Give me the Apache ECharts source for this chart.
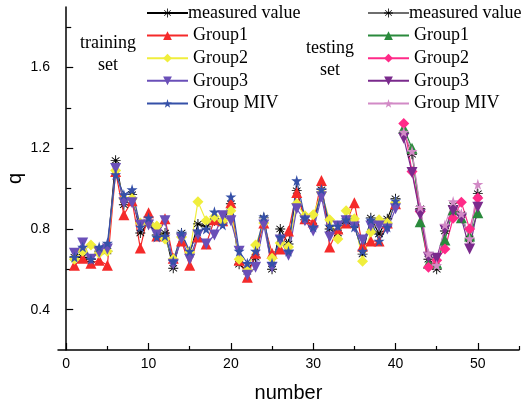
<!DOCTYPE html>
<html>
<head>
<meta charset="utf-8">
<script src="https://cdn.jsdelivr.net/npm/echarts@6/dist/echarts.min.js"></script>
<style>
  html, body { margin: 0; padding: 0; background: #fff; }
  #chart { width: 522px; height: 405px; }
</style>
</head>
<body>
<div id="chart"></div>
<script>
// sample numbers
const trainNo = [1, 2, 3, 4, 5, 6, 7, 8, 9, 10, 11, 12, 13, 14, 15, 16, 17, 18, 19, 20,
  21, 22, 23, 24, 25, 26, 27, 28, 29, 30, 31, 32, 33, 34, 35, 36, 37, 38, 39, 40]
const testNo = [41, 42, 43, 44, 45, 46, 47, 48, 49, 50]

// training set
const trainMeasured = [0.66, 0.66, 0.65, 0.69, 0.69, 1.14, 0.92, 0.97, 0.78, 0.83,
  0.77, 0.78, 0.605, 0.78, 0.675, 0.825, 0.81, 0.84, 0.83, 0.925,
  0.625, 0.59, 0.66, 0.855, 0.60, 0.80, 0.725, 0.99, 0.845, 0.815,
  0.995, 0.80, 0.78, 0.84, 0.82, 0.675, 0.855, 0.775, 0.85, 0.95]
const trainG1 = [0.62, 0.655, 0.63, 0.645, 0.62, 1.085, 0.87, 0.94, 0.705, 0.88,
  0.765, 0.85, 0.655, 0.74, 0.62, 0.76, 0.725, 0.845, 0.84, 0.93,
  0.645, 0.56, 0.68, 0.83, 0.68, 0.70, 0.79, 0.98, 0.85, 0.835,
  1.04, 0.71, 0.80, 0.83, 0.93, 0.715, 0.74, 0.74, 0.83, 0.925]
const trainG2 = [0.65, 0.69, 0.72, 0.68, 0.69, 1.09, 0.95, 0.95, 0.83, 0.83,
  0.815, 0.75, 0.65, 0.76, 0.685, 0.935, 0.84, 0.86, 0.84, 0.89,
  0.65, 0.595, 0.72, 0.83, 0.655, 0.73, 0.71, 0.925, 0.865, 0.87,
  0.98, 0.845, 0.75, 0.89, 0.85, 0.64, 0.785, 0.845, 0.83, 0.93]
const trainG3 = [0.68, 0.73, 0.65, 0.685, 0.70, 1.10, 0.93, 0.93, 0.82, 0.82,
  0.77, 0.84, 0.625, 0.75, 0.65, 0.77, 0.725, 0.77, 0.865, 0.84,
  0.69, 0.57, 0.61, 0.82, 0.61, 0.745, 0.67, 0.90, 0.84, 0.79,
  0.96, 0.76, 0.815, 0.84, 0.81, 0.745, 0.815, 0.815, 0.80, 0.90]
const trainMIV = [0.66, 0.71, 0.65, 0.71, 0.73, 1.07, 0.97, 0.995, 0.81, 0.855,
  0.76, 0.765, 0.64, 0.78, 0.69, 0.79, 0.80, 0.885, 0.82, 0.96,
  0.69, 0.63, 0.69, 0.86, 0.63, 0.76, 0.69, 1.04, 0.855, 0.81,
  0.995, 0.815, 0.815, 0.845, 0.81, 0.69, 0.845, 0.74, 0.81, 0.94]

// testing set
const testMeasured = [1.275, 1.17, 0.90, 0.65, 0.60, 0.79, 0.915, 0.87, 0.75, 0.975]
const testG1 = [1.30, 1.20, 0.836, 0.63, 0.63, 0.745, 0.895, 0.855, 0.765, 0.88]
const testG2 = [1.322, 1.085, 0.886, 0.61, 0.645, 0.70, 0.853, 0.932, 0.80, 0.953]
const testG3 = [1.25, 1.08, 0.87, 0.66, 0.655, 0.795, 0.89, 0.853, 0.70, 0.908]
const testMIV = [1.28, 1.185, 0.908, 0.678, 0.62, 0.82, 0.936, 0.875, 0.752, 1.022]

// axis ticks
const xLabels = [0, 10, 20, 30, 40, 50]
const xMinor = [5, 15, 25, 35, 45, 55]
const yLabels = [0.4, 0.8, 1.2, 1.6]
const yMinor = [0.6, 1.0, 1.4, 1.8]

const names = ['measured value', 'Group1', 'Group2', 'Group3', 'Group MIV']

// 符号
const asterisk = 'path://M-0.9,-10L0.9,-10L0.9,10L-0.9,10Z' +
  'M-8.1,-5.4L-7.2,-6.9L8.1,5.4L7.2,6.9Z' +
  'M7.2,-6.9L8.1,-5.4L-7.2,6.9L-8.1,5.4Z' +
  'M-10,-0.9L10,-0.9L10,0.9L-10,0.9Z'
const downTri = 'path://M0,0L10,0L5,9Z'
const star = 'path://M50,0L61,35L98,35L68,57L79,91L50,70L21,91L32,57L2,35L39,35Z'

const pair = (xs, ys) => xs.map((x, i) => [x, ys[i]])

const mk = (name, xs, ys, color, symbol, size, lineColor) => ({
  name: name,
  type: 'line',
  data: pair(xs, ys),
  symbol: symbol,
  symbolSize: size,
  itemStyle: { color: color },
  lineStyle: { color: lineColor || color, width: 1.2 },
  emphasis: { disabled: true },
  animation: false
})

const series = [
  mk(names[0], trainNo, trainMeasured, '#000', asterisk, 10),
  mk(names[1], trainNo, trainG1, '#f52a2a', 'triangle', 11),
  mk(names[2], trainNo, trainG2, '#f0ee3c', 'diamond', 11),
  mk(names[3], trainNo, trainG3, '#6a4fb8', downTri, 11),
  mk(names[4], trainNo, trainMIV, '#3550a8', star, 11),
  mk(names[0] + ' ', testNo, testMeasured, '#000', asterisk, 10, '#6e6e6e'),
  mk(names[1] + ' ', testNo, testG1, '#2a8a3c', 'triangle', 11),
  mk(names[2] + ' ', testNo, testG2, '#ff2a88', 'diamond', 11),
  mk(names[3] + ' ', testNo, testG3, '#7a2a8c', downTri, 11),
  mk(names[4] + ' ', testNo, testMIV, '#d28ac6', star, 11)
]

const legendBase = {
  orient: 'vertical',
  top: 4,
  padding: 0,
  itemWidth: 41,
  itemHeight: 11,
  itemGap: 4.6,
  selectedMode: false,
  formatter: n => n.trim(),
  textStyle: { fontFamily: 'Liberation Serif', fontSize: 18, color: '#000', lineHeight: 18 }
}

// 第一项文字贴着图标
const legendData = (suffix) => names.map((n, i) => i === 0
  ? { name: n + suffix, textStyle: { padding: [0, 0, 0, -5] } }
  : { name: n + suffix })

const chart = echarts.init(document.getElementById('chart'))
const axisLineStyle = { color: '#000', width: 1.5 }
const serifText = { fontFamily: 'Liberation Serif', fontSize: 18, lineHeight: 22, align: 'center', verticalAlign: 'top', fill: '#000' }
const option = {
  backgroundColor: '#fff',
  grid: { left: 58, right: 3, top: 7, bottom: 55, outerBoundsMode: 'none' },
  legend: [
    Object.assign({}, legendBase, { left: 146, data: legendData('') }),
    Object.assign({}, legendBase, { left: 367, data: legendData(' ') })
  ],
  graphic: [
    { type: 'text', x: 108, y: 32, style: Object.assign({ text: 'training\nset' }, serifText) },
    { type: 'text', x: 330, y: 37, style: Object.assign({ text: 'testing\nset' }, serifText) }
  ],
  xAxis: [
    {
      type: 'value', min: -1, max: 55,
      name: 'number', nameLocation: 'middle', nameGap: 33, nameMoveOverlap: false,
      nameTextStyle: { fontFamily: 'Liberation Sans', fontSize: 20, color: '#000' },
      axisLine: { lineStyle: axisLineStyle },
      axisTick: { inside: true, length: 7, customValues: xLabels, lineStyle: { color: '#000', width: 1.2 } },
      axisLabel: { customValues: xLabels, fontFamily: 'Liberation Sans', fontSize: 14, color: '#000', margin: 7 },
      splitLine: { show: false }
    },
    {
      type: 'value', min: -1, max: 55, position: 'bottom',
      axisLine: { show: false },
      axisTick: { inside: true, length: 4, customValues: xMinor, lineStyle: { color: '#000', width: 1.2 } },
      axisLabel: { show: false },
      splitLine: { show: false }
    }
  ],
  yAxis: [
    {
      type: 'value', min: 0.2, max: 1.9,
      name: 'q', nameLocation: 'middle', nameGap: 33, nameMoveOverlap: false,
      nameTextStyle: { fontFamily: 'Liberation Sans', fontSize: 20, color: '#000' },
      axisLine: { show: true, lineStyle: axisLineStyle },
      axisTick: { show: true, inside: true, length: 7, customValues: yLabels, lineStyle: { color: '#000', width: 1.2 } },
      axisLabel: { customValues: yLabels, fontFamily: 'Liberation Sans', fontSize: 14, color: '#000', margin: 8, formatter: v => v.toFixed(1) },
      splitLine: { show: false }
    },
    {
      type: 'value', min: 0.2, max: 1.9, position: 'left',
      axisLine: { show: false },
      axisTick: { show: true, inside: true, length: 5, customValues: yMinor, lineStyle: { color: '#000', width: 1.2 } },
      axisLabel: { show: false },
      splitLine: { show: false }
    }
  ],
  series: series
}
chart.setOption(option)
</script>
</body>
</html>
